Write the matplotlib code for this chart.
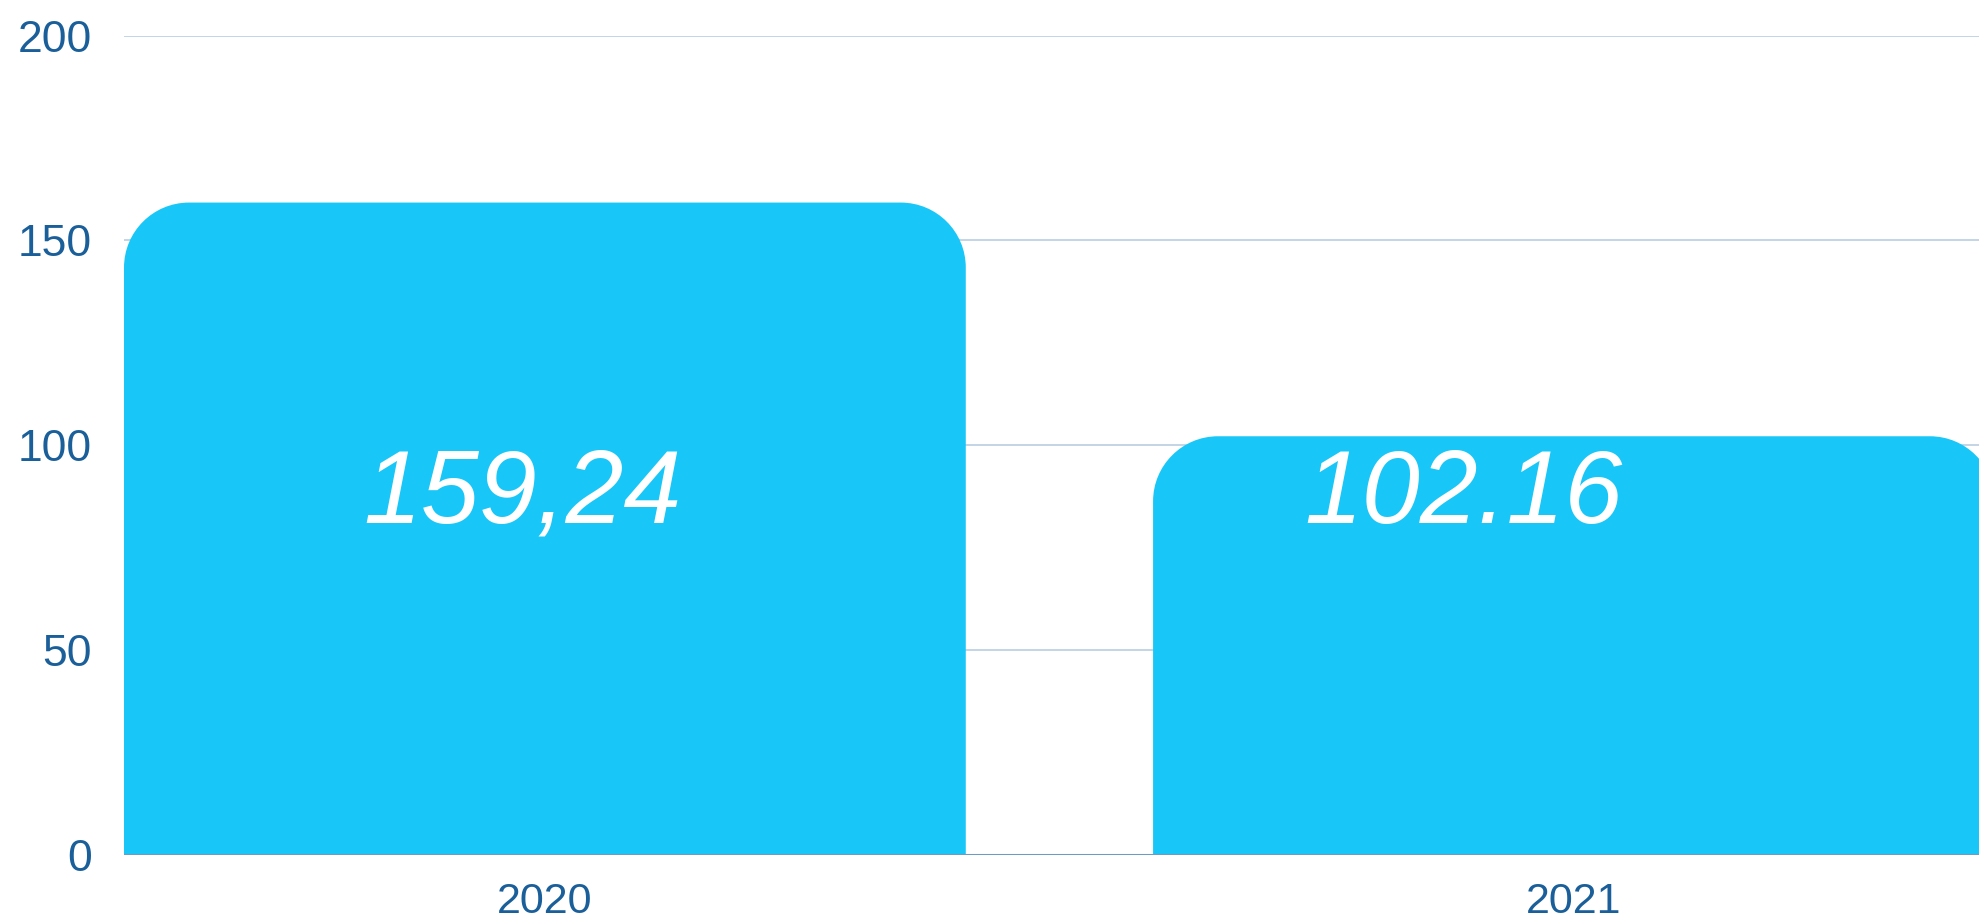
import matplotlib
matplotlib.use("Agg")
import matplotlib.pyplot as plt
from matplotlib.path import Path
from matplotlib.patches import PathPatch

# ---- data ----
categories = ["2020", "2021"]
values = [159.24, 102.16]
value_labels = ["159,24", "102.16"]
y_ticks = [0, 50, 100, 150, 200]

# ---- style ----
BAR_COLOR = "#18c7f8"
TICK_COLOR = "#1a5f99"
GRID_COLOR = "#c3d5e6"
BASE_COLOR = "#6d9bc3"

W, H, DPI = 1979, 921, 100
fig = plt.figure(figsize=(W / DPI, H / DPI), dpi=DPI)
ax = fig.add_axes([124 / W, (H - 854.5) / H, 1 - 124 / W, (854.5 - 35.7) / H])

ax.set_xlim(-0.409, 1.3936)
ax.set_ylim(0, 200)

bar_width = 0.818
x_pos = list(range(len(categories)))

# pixel radius converted to data units
px_per_x = (W - 124) / (1.3936 + 0.409)
px_per_y = (854.5 - 35.7) / 200
radius_px = 65
rx = radius_px / px_per_x
ry = radius_px / px_per_y
k = 0.5523


def rounded_top_bar(x0, x1, h):
    verts = [
        (x0, 0),
        (x0, h - ry),
        (x0, h - ry + k * ry), (x0 + rx - k * rx, h), (x0 + rx, h),
        (x1 - rx, h),
        (x1 - rx + k * rx, h), (x1, h - ry + k * ry), (x1, h - ry),
        (x1, 0),
        (x0, 0),
    ]
    codes = [Path.MOVETO, Path.LINETO,
             Path.CURVE4, Path.CURVE4, Path.CURVE4,
             Path.LINETO,
             Path.CURVE4, Path.CURVE4, Path.CURVE4,
             Path.LINETO, Path.CLOSEPOLY]
    return Path(verts, codes)


for xi, v in zip(x_pos, values):
    p = rounded_top_bar(xi - bar_width / 2, xi + bar_width / 2, v)
    patch = PathPatch(p, facecolor=BAR_COLOR, edgecolor="none", zorder=2)
    ax.add_patch(patch)

# value labels (fixed height inside bars)
label_offsets = [-0.0217, -0.1074]
for xi, lab, off in zip(x_pos, value_labels, label_offsets):
    ax.text(xi + off, 81.0, lab, ha="center", va="baseline", color="white",
            fontsize=75, fontstyle="italic", family="Liberation Sans", zorder=4)

# grid
ax.set_yticks(y_ticks)
ax.yaxis.grid(True, color=GRID_COLOR, linewidth=1.4, zorder=0)
ax.set_axisbelow(True)
ax.axhline(0, color=BASE_COLOR, linewidth=2.2, zorder=3)

ax.set_xticks(x_pos)
ax.set_xticklabels(categories)
for s in ax.spines.values():
    s.set_visible(False)
ax.tick_params(axis="both", length=0, colors=TICK_COLOR)
ax.tick_params(axis="y", pad=23, labelsize=32)
ax.tick_params(axis="x", pad=20, labelsize=31)
for t in ax.get_xticklabels() + ax.get_yticklabels():
    t.set_family("Liberation Sans")
    t.set_color(TICK_COLOR)

fig.savefig("out.png", dpi=DPI)
